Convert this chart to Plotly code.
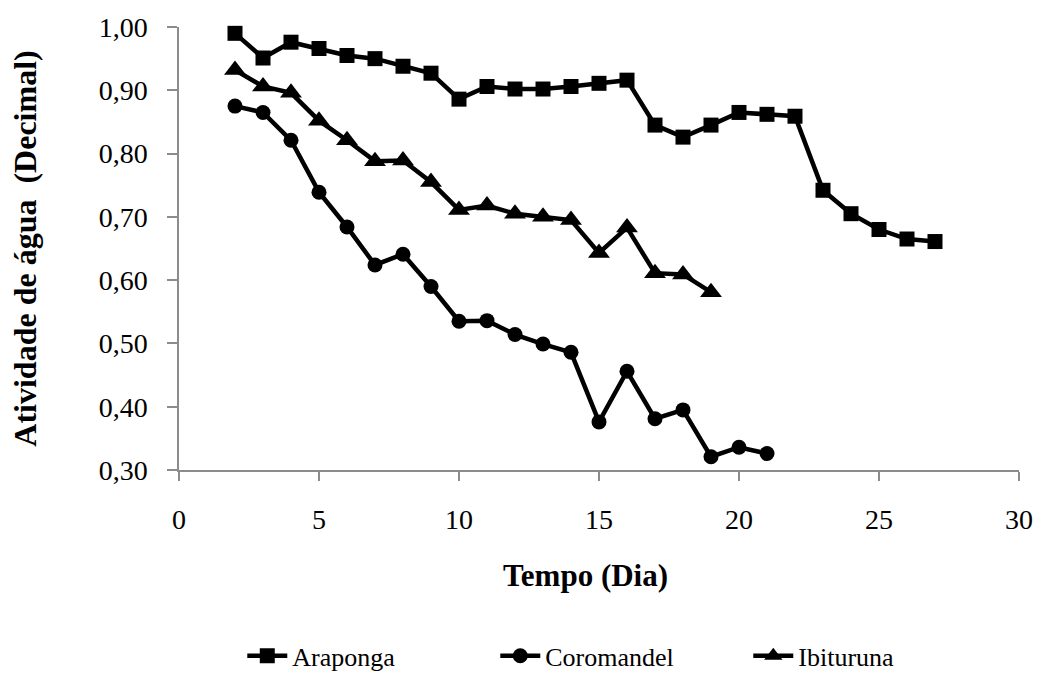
import plotly.graph_objects as go

# Water activity over storage time for three origins
dias_araponga = list(range(2, 28))
araponga = [0.990, 0.951, 0.976, 0.966, 0.955, 0.950, 0.938, 0.927, 0.886, 0.906,
            0.902, 0.902, 0.906, 0.911, 0.916, 0.845, 0.826, 0.845, 0.865, 0.862,
            0.859, 0.742, 0.705, 0.680, 0.665, 0.661]

dias_coromandel = list(range(2, 22))
coromandel = [0.875, 0.865, 0.821, 0.739, 0.684, 0.624, 0.641, 0.590, 0.535, 0.536,
              0.514, 0.499, 0.486, 0.376, 0.456, 0.381, 0.395, 0.321, 0.336, 0.326]

dias_ibituruna = list(range(2, 20))
ibituruna = [0.932, 0.906, 0.896, 0.852, 0.821, 0.788, 0.789, 0.755, 0.711, 0.718,
             0.705, 0.700, 0.695, 0.643, 0.683, 0.611, 0.609, 0.581]

x_ticks = [0, 5, 10, 15, 20, 25, 30]
y_ticks = [0.30, 0.40, 0.50, 0.60, 0.70, 0.80, 0.90, 1.00]

serif = "Liberation Serif"
axis_grey = "#8c8c8c"

series = [
    ("Araponga", dias_araponga, araponga, "square", 15),
    ("Coromandel", dias_coromandel, coromandel, "circle", 15),
    ("Ibituruna", dias_ibituruna, ibituruna, "triangle-up", 19),
]

fig = go.Figure()
for name, xs, ys, symbol, size in series:
    fig.add_trace(go.Scatter(
        x=xs, y=ys, name=name, mode="lines+markers",
        line=dict(color="black", width=4.5),
        marker=dict(symbol=symbol, size=size, color="black"),
        cliponaxis=False,
    ))

fig.update_layout(
    width=1045, height=674,
    margin=dict(l=179, r=21, t=24, b=204),
    paper_bgcolor="white", plot_bgcolor="white",
    separators=",.",
    font=dict(family=serif, color="black", size=28),
    showlegend=True,
    legend=dict(
        orientation="h",
        xref="container", yref="container",
        x=0.595, y=0.027, xanchor="center", yanchor="middle",
        font=dict(family=serif, size=26, color="black"),
        itemwidth=40,
        entrywidth=198, entrywidthmode="pixels",
    ),
    annotations=[dict(
        text="<b>Tempo (Dia)</b>", xref="paper", yref="paper",
        x=0.484, y=-0.238, xanchor="center", yanchor="middle",
        showarrow=False, font=dict(family=serif, size=31, color="black"),
    )],
)

fig.update_xaxes(
    range=[0, 30], tickvals=x_ticks, ticktext=[str(v) for v in x_ticks],
    showline=True, linecolor=axis_grey, linewidth=1.5,
    ticks="outside", ticklen=9, tickcolor=axis_grey, tickwidth=1.5,
    showgrid=False, zeroline=False,
    tickfont=dict(family=serif, size=28, color="black"),
    ticklabelstandoff=15,
)

fig.update_yaxes(
    range=[0.30, 1.00], tickvals=y_ticks, tickformat=".2f",
    showline=True, linecolor=axis_grey, linewidth=1.5,
    ticks="outside", ticklen=10, tickcolor=axis_grey, tickwidth=1.5,
    showgrid=False, zeroline=False,
    tickfont=dict(family=serif, size=28, color="black"),
    ticklabelstandoff=14,
    title=dict(text="<b>Atividade de água \u00a0(Decimal)</b>", standoff=52,
               font=dict(family=serif, size=32, color="black")),
)

fig.write_html("out.html")
